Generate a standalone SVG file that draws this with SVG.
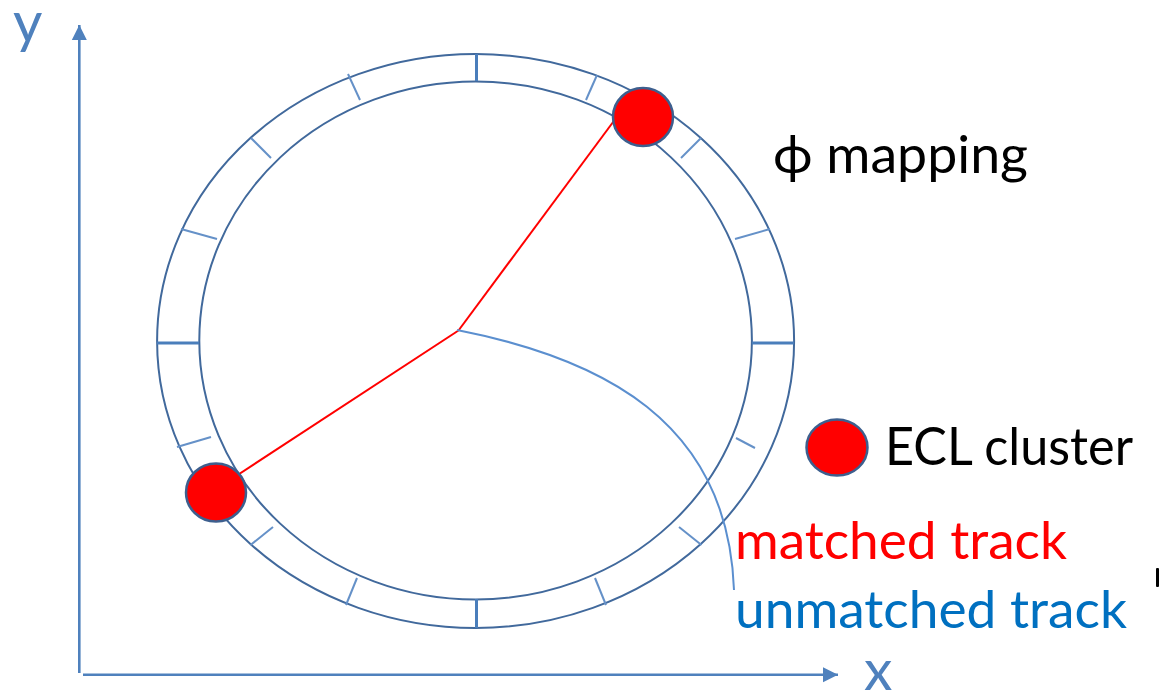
<svg xmlns="http://www.w3.org/2000/svg" width="1159" height="693" viewBox="0 0 1159 693">
  <defs>
    <marker id="arrow" markerUnits="userSpaceOnUse" markerWidth="16" markerHeight="16" viewBox="0 0 16 16" refX="15" refY="8" orient="auto">
      <path d="M0,0.5 L15,8 L0,15.5 Z" fill="#4f81bd"/>
    </marker>
  </defs>
  <style>
    .axis { stroke: #4f81bd; stroke-width: 2.6; fill: none; }
    .ring { fill: none; stroke: #41699c; stroke-width: 2; }
    .tick-major { stroke: #4a7ebb; stroke-width: 3; }
    .tick { stroke: #6591c8; stroke-width: 2; }
    .track-matched { stroke: #ff0000; stroke-width: 2; fill: none; }
    .track-unmatched { stroke: #5b8fcf; stroke-width: 2; fill: none; }
    .cluster { fill: #ff0000; stroke: #3d5f8e; stroke-width: 2.5; }
    .label { font-family: Lato, "Liberation Sans", "DejaVu Sans", sans-serif; font-size: 52px; }
    .axis-label { font-family: Lato, "Liberation Sans", sans-serif; font-size: 57px; fill: #4f81bd; }
  </style>

  <rect width="1159" height="693" fill="#ffffff"/>

  <!-- coordinate axes -->
  <g id="axes">
    <line class="axis" x1="79.3" y1="673" x2="79.3" y2="25" marker-end="url(#arrow)"/>
    <line class="axis" x1="83" y1="674.7" x2="838" y2="674.7" marker-end="url(#arrow)"/>
    <text class="axis-label" x="13" y="42">y</text>
    <text class="axis-label" x="864" y="690">x</text>
  </g>

  <!-- calorimeter ring with phi segmentation -->
  <g id="ecl-ring">
    <ellipse class="ring" cx="475.6" cy="341" rx="318.5" ry="287"/>
    <ellipse class="ring" cx="475.6" cy="340.5" rx="276.3" ry="259"/>
    <line class="tick-major" x1="476.5" y1="54" x2="476.5" y2="81"/>
    <line class="tick-major" x1="476.5" y1="599" x2="476.5" y2="628"/>
    <line class="tick-major" x1="157" y1="343" x2="199" y2="343"/>
    <line class="tick-major" x1="752" y1="343" x2="794" y2="343"/>
    <line class="tick" x1="597" y1="75" x2="586" y2="100"/>
    <line class="tick" x1="701" y1="138" x2="681" y2="158"/>
    <line class="tick" x1="770" y1="229" x2="735" y2="239"/>
    <line class="tick" x1="755" y1="448" x2="736" y2="438"/>
    <line class="tick" x1="701.5" y1="545" x2="679" y2="527"/>
    <line class="tick" x1="606" y1="605" x2="595" y2="578"/>
    <line class="tick" x1="346" y1="605" x2="357" y2="578"/>
    <line class="tick" x1="250.5" y1="545" x2="273" y2="527"/>
    <line class="tick" x1="177" y1="447" x2="211" y2="437"/>
    <line class="tick" x1="181" y1="229" x2="217" y2="239"/>
    <line class="tick" x1="251" y1="138" x2="271" y2="158"/>
    <line class="tick" x1="348" y1="74" x2="360" y2="100"/>
  </g>

  <!-- tracks from the interaction point -->
  <g id="connectors">
    <line class="track-matched" x1="458.5" y1="330.5" x2="622" y2="110"/>
    <line class="track-matched" x1="458.5" y1="330.5" x2="230" y2="480"/>
    <path class="track-unmatched" d="M457,330 C600,358 728,420 734,590"/>
  </g>

  <!-- ECL clusters -->
  <g id="cluster-top">
    <ellipse class="cluster" cx="643" cy="117" rx="30" ry="29"/>
  </g>
  <g id="cluster-left">
    <ellipse class="cluster" cx="216" cy="492.5" rx="30" ry="29"/>
  </g>

  <!-- legend and annotations -->
  <g id="phi-label">
    <text class="label" x="773" y="173" fill="#000000" textLength="255" lengthAdjust="spacingAndGlyphs">ϕ mapping</text>
  </g>
  <g id="legend-cluster">
    <ellipse class="cluster" cx="837" cy="447.5" rx="30.5" ry="28"/>
    <text class="label" x="885" y="465" fill="#000000" textLength="248" lengthAdjust="spacingAndGlyphs">ECL cluster</text>
  </g>
  <g id="legend-matched">
    <text class="label" x="735" y="559" fill="#ff0000" textLength="332" lengthAdjust="spacingAndGlyphs">matched track</text>
  </g>
  <g id="legend-unmatched">
    <text class="label" x="735" y="628" fill="#0070c0" textLength="392" lengthAdjust="spacingAndGlyphs">unmatched track</text>
  </g>
  <rect x="1156" y="568" width="3" height="19" rx="1" fill="#000000"/>
</svg>
